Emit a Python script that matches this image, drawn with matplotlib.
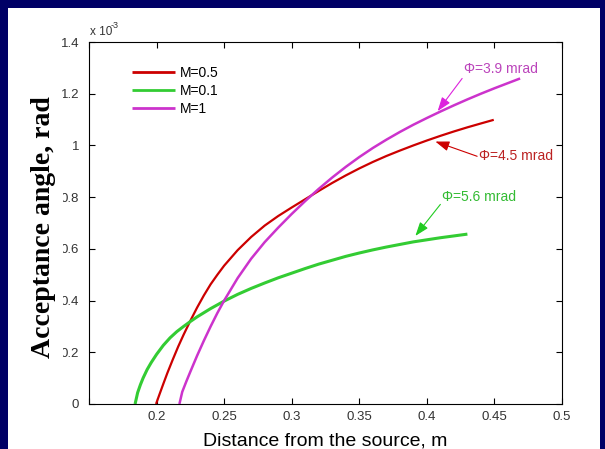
import matplotlib
matplotlib.use('Agg')
import matplotlib.pyplot as plt
from matplotlib.patches import Rectangle
from matplotlib.ticker import FormatStrFormatter

# acceptance angle values are in units of 1e-3 rad
x_m05 = [0.1996, 0.202, 0.205, 0.208, 0.212, 0.216, 0.22, 0.225, 0.23, 0.235, 0.24, 0.245,
         0.25, 0.26, 0.27, 0.28, 0.29, 0.30, 0.31, 0.32, 0.33, 0.34, 0.35, 0.36, 0.37,
         0.38, 0.39, 0.40, 0.41, 0.42, 0.43, 0.44, 0.4495]
y_m05 = [0.0, 0.035, 0.078, 0.12, 0.172, 0.222, 0.268, 0.322, 0.373, 0.42, 0.463, 0.5,
         0.535, 0.595, 0.646, 0.69, 0.727, 0.76, 0.792, 0.824, 0.855, 0.884, 0.911, 0.936, 0.959,
         0.98, 1.0, 1.019, 1.037, 1.054, 1.07, 1.085, 1.099]

x_m01 = [0.1841, 0.186, 0.188, 0.19, 0.193, 0.196, 0.2, 0.205, 0.21, 0.215, 0.22, 0.225,
         0.23, 0.24, 0.25, 0.26, 0.27, 0.28, 0.29, 0.30, 0.31, 0.32, 0.33, 0.34, 0.35,
         0.36, 0.37, 0.38, 0.39, 0.40, 0.41, 0.42, 0.43]
y_m01 = [0.0, 0.044, 0.074, 0.1, 0.133, 0.16, 0.192, 0.227, 0.256, 0.28, 0.30, 0.319,
         0.337, 0.369, 0.398, 0.424, 0.447, 0.468, 0.488, 0.506, 0.524, 0.541, 0.556, 0.571, 0.584,
         0.596, 0.607, 0.617, 0.627, 0.635, 0.643, 0.65, 0.657]

x_m1 = [0.2169, 0.219, 0.222, 0.225, 0.23, 0.235, 0.24, 0.245, 0.25, 0.26, 0.27, 0.28,
        0.29, 0.30, 0.31, 0.32, 0.33, 0.34, 0.35, 0.36, 0.37, 0.38, 0.39, 0.40, 0.41,
        0.42, 0.43, 0.44, 0.45, 0.46, 0.469]
y_m1 = [0.0, 0.047, 0.087, 0.125, 0.187, 0.245, 0.30, 0.352, 0.40, 0.487, 0.562, 0.626,
        0.682, 0.735, 0.785, 0.832, 0.876, 0.917, 0.955, 0.99, 1.022, 1.052, 1.08, 1.106, 1.131,
        1.155, 1.178, 1.2, 1.221, 1.241, 1.259]

labels = ['M=0.5', 'M=0.1', 'M=1']
colors = ['#cc0000', '#33cc33', '#cc33cc']
widths = [1.6, 2.2, 1.8]

# (text, text pos, arrow start, arrow tip, text colour, arrow colour)
notes = [
    ('\u03a6=3.9 mrad', (0.4275, 1.297), (0.4261, 1.259), (0.408, 1.133), '#bb44bb', '#dd22dd'),
    ('\u03a6=4.5 mrad', (0.4385, 0.958), (0.4372, 0.958), (0.4063, 1.015), '#bb2222', '#cc0000'),
    ('\u03a6=5.6 mrad', (0.411, 0.80), (0.41, 0.772), (0.3915, 0.65), '#33bb33', '#22cc22'),
]

W, H = 605, 449
fig = plt.figure(figsize=(W / 100, H / 100), dpi=100, facecolor='#000066')
fig.add_artist(Rectangle((8 / W, 0), (600 - 8) / W, (H - 8) / H, transform=fig.transFigure,
                         facecolor='white', edgecolor='none', zorder=-1))

ax = fig.add_axes([89 / W, 1 - 404 / H, (562 - 89) / W, (404 - 42) / H])
ax.set_facecolor('white')

for xs, ys, lab, c, lw in zip([x_m05, x_m01, x_m1], [y_m05, y_m01, y_m1], labels, colors, widths):
    ax.plot(xs, ys, color=c, lw=lw, label=lab, solid_capstyle='butt', solid_joinstyle='round')

ax.set_xlim(0.15, 0.5)
ax.set_ylim(0, 1.4)
ax.set_xticks([0.15, 0.2, 0.25, 0.3, 0.35, 0.4, 0.45, 0.5])
ax.set_xticklabels(['', '0.2', '0.25', '0.3', '0.35', '0.4', '0.45', '0.5'])
ax.set_yticks([0, 0.2, 0.4, 0.6, 0.8, 1.0, 1.2, 1.4])
ax.yaxis.set_major_formatter(FormatStrFormatter('%g'))
ax.tick_params(direction='in', top=True, right=True, length=4, width=0.8,
               labelsize=9.5, labelcolor='#333333')
ax.tick_params(axis='x', pad=5)
ax.tick_params(axis='y', pad=7)
for lab in ax.get_xticklabels() + ax.get_yticklabels():
    lab.set_fontfamily('Liberation Sans')
for sp in ax.spines.values():
    sp.set_linewidth(0.8)

leg = ax.legend(loc='upper left', bbox_to_anchor=(126 / W, 1 - 60 / H), bbox_transform=fig.transFigure,
                frameon=False, handlelength=3.1, handletextpad=0.36, labelspacing=0.3,
                borderaxespad=0, prop={'family': 'Liberation Sans', 'size': 10})
for line in leg.get_lines():
    line.set_linewidth(2)

for txt, tpos, start, tip, tc, ac in notes:
    ax.text(tpos[0], tpos[1], txt, color=tc, fontsize=10, family='Liberation Sans',
            ha='left', va='center')
    ax.annotate('', xy=tip, xytext=start,
                arrowprops=dict(arrowstyle='-|>,head_length=0.7,head_width=0.25', color=ac,
                                lw=0.8, shrinkA=0, shrinkB=0, mutation_scale=12))

# multiplier above the y axis
fig.text(90 / W, 1 - 32 / H, 'x 10', fontsize=8.5, family='Liberation Sans', color='#333333',
         ha='left', va='center')
fig.text(111 / W, 1 - 25 / H, '-3', fontsize=6.5, family='Liberation Sans', color='#333333',
         ha='left', va='center')

fig.text(325.5 / W, 1 - 445 / H, 'Distance from the source, m', fontsize=14,
         family='Liberation Sans', ha='center', va='baseline')

# y label pasted over part of the tick labels
fig.add_artist(Rectangle((25 / W, 1 - 362 / H), (63 - 25) / W, (362 - 92) / H,
                         transform=fig.transFigure, facecolor='white', edgecolor='none', zorder=2))
fig.text(44 / W, 1 - 227 / H, 'Acceptance angle, rad', fontsize=20, fontweight='bold',
         family='Liberation Serif', rotation=90, ha='center', va='center', zorder=3)

fig.savefig('out.png', dpi=100, facecolor=fig.get_facecolor())
